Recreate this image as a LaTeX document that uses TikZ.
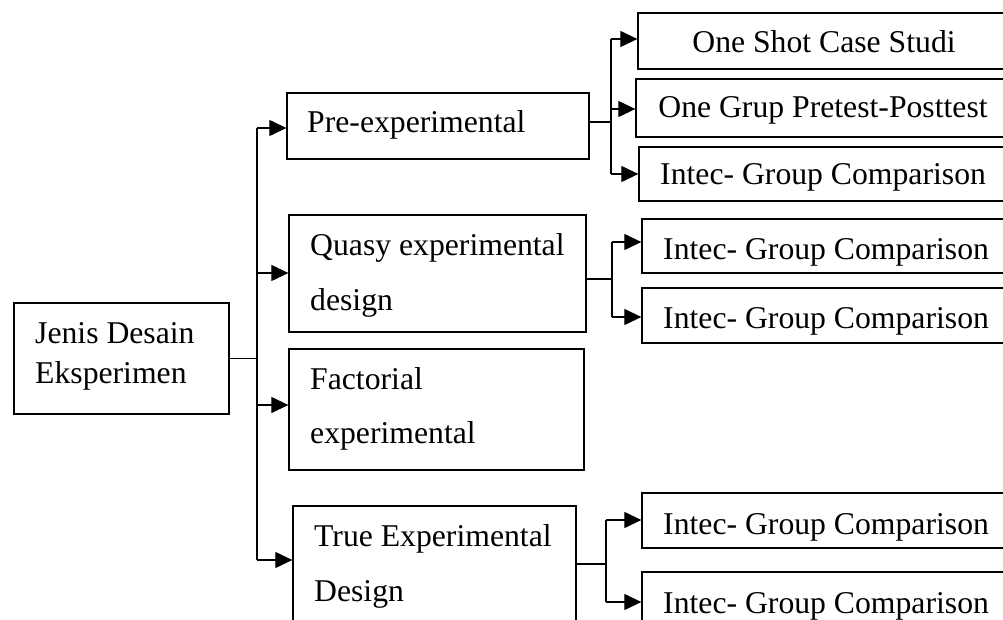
\documentclass[tikz,border=0pt]{standalone}
\usepackage{fontspec}
\setmainfont{Liberation Serif}
\usetikzlibrary{arrows.meta,fit}
\begin{document}
\begin{tikzpicture}[x=1pt,y=-1pt,
  box/.style={draw, line width=1.3pt, inner sep=0pt, rectangle},
  lbl/.style={anchor=base west, inner sep=0pt, font=\fontsize{31.7}{38}\selectfont},
  clbl/.style={anchor=base, inner sep=0pt, font=\fontsize{31.7}{38}\selectfont},
  conn/.style={line width=1.2pt},
  arr/.style={line width=1.2pt, -{Triangle[length=17pt,width=16pt]}}]
\useasboundingbox (0,0) rectangle (1003,620);
\clip (0,0) rectangle (1003,620);
% boxes
\node[box, fit={(14,303) (229,414)}] (root) {};
\node[box, fit={(287,93) (589,159)}] (pre) {};
\node[box, fit={(289,215) (586,332)}] (quasy) {};
\node[box, fit={(289,349) (584,470)}] (fact) {};
\node[box, fit={(293,506) (576,650)}] (trueb) {};
\node[box, fit={(638,13) (1020,69)}] (r1) {};
\node[box, fit={(636,79) (1020,137)}] (r2) {};
\node[box, fit={(639,147) (1020,201)}] (r3) {};
\node[box, fit={(642,219) (1020,273)}] (q1) {};
\node[box, fit={(642,288) (1020,343)}] (q2) {};
\node[box, fit={(642,493) (1020,548)}] (tb1) {};
\node[box, fit={(642,572) (1020,650)}] (tb2) {};
% texts
\node[lbl] (troot1) at (35,343) {Jenis Desain};
\node[lbl] (troot2) at (35,383) {Eksperimen};
\node[lbl] (tpre) at (307,133) {Pre-experimental};
\node[lbl] (tq1) at (310,255) {Quasy experimental};
\node[lbl] (tq2) at (310,310) {design};
\node[lbl] (tf1) at (310,389) {Factorial};
\node[lbl] (tf2) at (310,443) {experimental};
\node[lbl] (tt1) at (314,546) {True Experimental};
\node[lbl] (tt2) at (314,601) {Design};
\node[clbl] (tr1) at (824,53) {One Shot Case Studi};
\node[clbl] (tr2) at (823,118) {One Grup Pretest-Posttest};
\node[lbl] (tr3) at (660,185) {Intec- Group Comparison};
\node[lbl] (tqa) at (663,259) {Intec- Group Comparison};
\node[lbl] (tqb) at (663,328) {Intec- Group Comparison};
\node[lbl] (tta) at (663,534) {Intec- Group Comparison};
\node[lbl] (ttb) at (663,613) {Intec- Group Comparison};
% coordinates for connectors
\coordinate (k1) at (257,128);
\coordinate (k2) at (257,273);
\coordinate (k3) at (257,405);
\coordinate (k4) at (257,560);
\coordinate (p0) at (611,122);
\coordinate (p1) at (611,39);
\coordinate (p2) at (611,109);
\coordinate (p3) at (611,174);
\coordinate (s0) at (612,279);
\coordinate (s1) at (612,242);
\coordinate (s2) at (612,317);
\coordinate (u0) at (606,564);
\coordinate (u1) at (606,520);
\coordinate (u2) at (606,602);
% main trunk
\draw[conn] (root.east) -- (root.east -| k1);
\draw[conn] (k1) -- (k4);
\draw[arr] (k1) -- (pre.west |- k1);
\draw[arr] (k2) -- (quasy.west |- k2);
\draw[arr] (k3) -- (fact.west |- k3);
\draw[arr] (k4) -- (trueb.west |- k4);
% pre group
\draw[conn] (pre.east |- p0) -- (p0);
\draw[conn] (p1) -- (p3);
\draw[arr] (p1) -- (r1.west |- p1);
\draw[arr] (p2) -- (r2.west |- p2);
\draw[arr] (p3) -- (r3.west |- p3);
% quasy group
\draw[conn] (quasy.east |- s0) -- (s0);
\draw[conn] (s1) -- (s2);
\draw[arr] (s1) -- (q1.west |- s1);
\draw[arr] (s2) -- (q2.west |- s2);
% true group
\draw[conn] (trueb.east |- u0) -- (u0);
\draw[conn] (u1) -- (u2);
\draw[arr] (u1) -- (tb1.west |- u1);
\draw[arr] (u2) -- (tb2.west |- u2);
\end{tikzpicture}
\end{document}
